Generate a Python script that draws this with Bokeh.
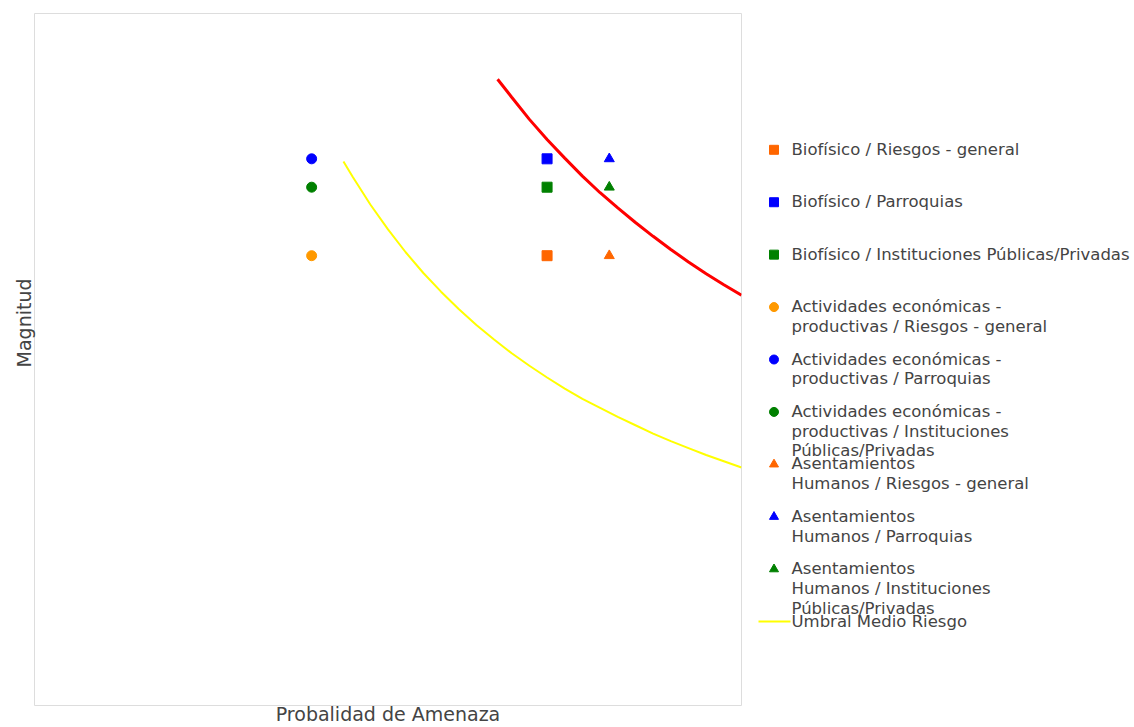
from bokeh.plotting import figure
from bokeh.models import Range1d, Title
from bokeh.layouts import row
from bokeh.core.properties import value
from bokeh.embed import file_html
from bokeh.resources import INLINE

# ---- data ----
groups = ["Riesgos - general", "Parroquias", "Instituciones Públicas/Privadas"]
magnitud = [6.50, 7.90, 7.49]

biofisico_x = [7.25, 7.25, 7.25]
actividades_x = [3.92, 3.92, 3.92]
asentamientos_x = [8.13, 8.13, 8.13]

labels_biofisico = ["Biofísico / Riesgos - general",
                    "Biofísico / Parroquias",
                    "Biofísico / Instituciones Públicas/Privadas"]
labels_actividades = ["Actividades económicas -\nproductivas / Riesgos - general",
                      "Actividades económicas -\nproductivas / Parroquias",
                      "Actividades económicas -\nproductivas / Instituciones\nPúblicas/Privadas"]
labels_asentamientos = ["Asentamientos\nHumanos / Riesgos - general",
                        "Asentamientos\nHumanos / Parroquias",
                        "Asentamientos\nHumanos / Instituciones\nPúblicas/Privadas"]
label_umbral_medio = "Umbral Medio Riesgo"

colors_square = ["#ff6600", "#0000ff", "#008000"]
colors_circle = ["#ff9900", "#0000ff", "#008000"]
colors_triangle = ["#ff6600", "#0000ff", "#008000"]

umbral_alto_x = [6.55, 6.75, 7.0, 7.25, 7.5, 7.75, 8.0, 8.25, 8.5, 8.75, 9.0, 9.25, 9.5, 9.75, 10.0]
umbral_alto_y = [9.05, 8.79, 8.47, 8.18, 7.91, 7.65, 7.41, 7.19, 6.98, 6.78, 6.59, 6.41, 6.24, 6.08, 5.93]
umbral_medio_x = [4.37, 4.5, 4.75, 5.0, 5.25, 5.5, 5.75, 6.0, 6.25, 6.5, 6.75, 7.0, 7.25, 7.5,
                  7.75, 8.0, 8.25, 8.5, 8.75, 9.0, 9.25, 9.5, 9.75, 10.0]
umbral_medio_y = [7.86, 7.64, 7.24, 6.88, 6.55, 6.25, 5.98, 5.73, 5.50, 5.29, 5.09, 4.91, 4.74, 4.58,
                  4.43, 4.30, 4.17, 4.05, 3.93, 3.82, 3.72, 3.62, 3.53, 3.44]

FONT = "DejaVu Sans"
TXT = "#444444"
H = 727

# ---------------- main plot ----------------
p = figure(width=743, height=H, output_backend="svg", toolbar_location=None,
           x_range=Range1d(0, 10), y_range=Range1d(0, 10),
           min_border_top=13, min_border_left=34, min_border_bottom=0, min_border_right=2,
           x_axis_label="Probalidad de Amenaza")
p.background_fill_color = "white"
p.border_fill_color = "white"
p.outline_line_color = "#dddddd"
p.outline_line_width = 1
p.grid.visible = False
for ax in (p.xaxis, p.yaxis):
    ax.ticker = []
    ax.axis_line_color = None
    ax.major_tick_line_color = None
    ax.minor_tick_line_color = None
    ax.major_tick_out = 0
    ax.major_tick_in = 0
    ax.minor_tick_out = 0
    ax.axis_label_text_font = FONT
    ax.axis_label_text_font_size = "19px"
    ax.axis_label_text_font_style = "normal"
    ax.axis_label_text_color = TXT
p.xaxis.axis_label_standoff = -3

ytitle = Title(text="Magnitud", align="right", offset=265, standoff=0,
               text_font=FONT, text_font_size="19px", text_font_style="normal",
               text_color=TXT)
p.add_layout(ytitle, "left")

p.line(umbral_alto_x, umbral_alto_y, line_color="#ff0000", line_width=3)
p.line(umbral_medio_x, umbral_medio_y, line_color="#ffff00", line_width=2)

series = [(biofisico_x, "square", colors_square, labels_biofisico),
          (actividades_x, "circle", colors_circle, labels_actividades),
          (asentamientos_x, "triangle", colors_triangle, labels_asentamientos)]
for xs, marker, cols, labs in series:
    for i in range(3):
        p.scatter([xs[i]], [magnitud[i]], marker=marker, size=10,
                  fill_color=cols[i], line_color=cols[i])

# ---------------- legend panel ----------------
# its frame is aligned with the main frame, so the y range maps the main frame's extent
W2 = 1134 - 743
leg = figure(width=W2, height=H, output_backend="svg", toolbar_location=None,
             x_range=Range1d(743, 1134), y_range=Range1d(706, 13),
             x_axis_type=None, y_axis_type=None,
             min_border=0, min_border_left=0, min_border_right=0,
             min_border_top=0, min_border_bottom=0)
leg.outline_line_color = None
leg.grid.visible = False
leg.background_fill_color = "white"
leg.border_fill_color = "white"

first_y, pitch = 149.5, 52.5
mark_x, text_x = 773.5, 791
k = 0
for xs, marker, cols, labs in series:
    for i in range(3):
        yy = first_y + pitch * k
        leg.scatter([mark_x], [yy], marker=marker, size=9,
                    fill_color=cols[i], line_color=cols[i])
        leg.text([text_x], [yy - 10], text=[labs[i]], text_font=value(FONT),
                 text_font_size="16.5px", text_color=TXT, text_baseline="top",
                 text_align="left", text_line_height=1.04)
        k += 1
yy = first_y + pitch * k
leg.line([758, 790], [yy, yy], line_color="#ffff00", line_width=2)
leg.text([text_x], [yy - 10], text=[label_umbral_medio], text_font=value(FONT),
         text_font_size="16.5px", text_color=TXT, text_baseline="top",
         text_align="left", text_line_height=1.04)

layout = row(p, leg, spacing=0)
open("out.html", "w").write(file_html(layout, INLINE))
